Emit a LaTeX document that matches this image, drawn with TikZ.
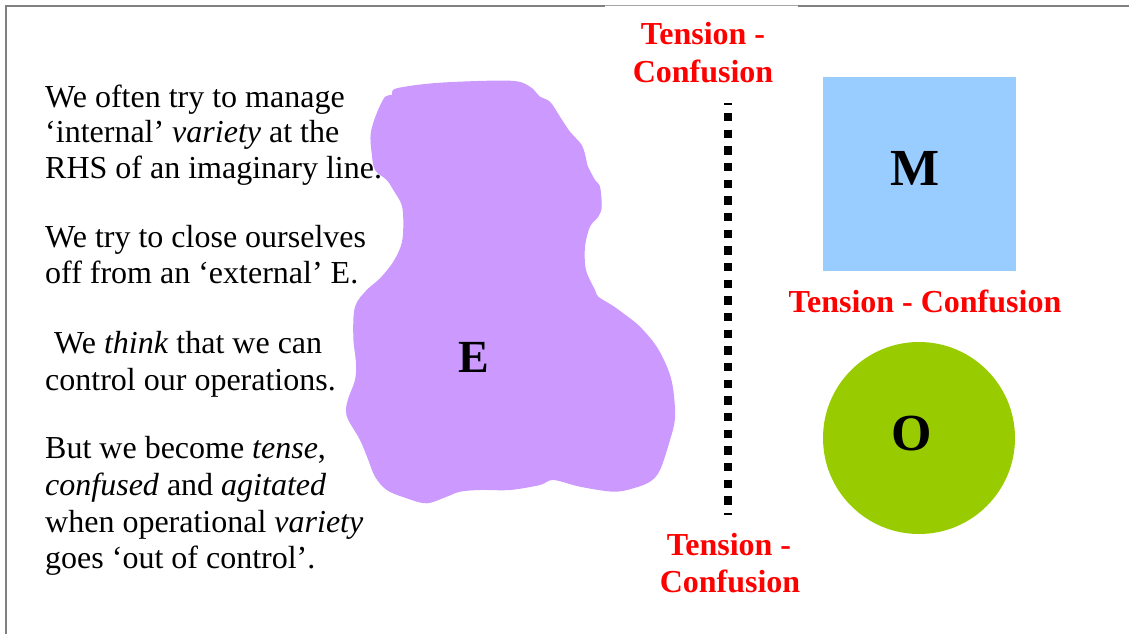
\documentclass[tikz,border=0pt]{standalone}
\usepackage{fontspec}
\setmainfont{Liberation Serif}
\definecolor{blobpurple}{HTML}{CC99FF}
\definecolor{mblue}{HTML}{99CCFF}
\definecolor{ogreen}{HTML}{99CC00}
\definecolor{tred}{HTML}{FF0000}
\definecolor{framegray}{HTML}{808080}
\begin{document}
\begin{tikzpicture}[x=1pt,y=-1pt,
  body/.style={anchor=base west,inner sep=0pt,font=\fontsize{32}{35.5}\selectfont},
  redlabel/.style={anchor=base,inner sep=0pt,text=tred,font=\fontsize{32}{37}\selectfont\bfseries},
  biglabel/.style={anchor=base,inner sep=0pt,font=\fontsize{52}{56}\selectfont\bfseries},
  frameline/.style={draw=framegray,line width=2pt}
]
\useasboundingbox (0,0) rectangle (1129,634);
% frame
\coordinate (ftl) at (6,6);
\coordinate (ftr) at (1129,6);
\coordinate (fbl) at (6,634);
\coordinate (fga) at (605,6);
\coordinate (fgb) at (798,6);
\draw[frameline] (fbl) -- (ftl) -- (fga);
\draw[frameline] (fgb) -- (ftr);
\draw[draw=framegray!70,line width=1pt] (fga) -- (fgb);

% blob E
\fill[blobpurple] plot[smooth cycle,tension=0.55] coordinates {
(396.7,88.3) (440,82.7) (510,80.7) (530,86.7) (540,96.7) (550,101.7)
(560,116.7) (570,131.7) (581.7,145) (586,158.3) (587.3,165) (595,180)
(600,186.7) (601.7,206.7) (598.3,216.7) (590,226.7) (585,246.7) (586,270)
(595,290) (598.3,296.7) (611.7,305) (623.3,313.3) (640,326.7) (656.7,346.7)
(668.3,370) (673.3,390) (675,418.3) (670,440) (660,470) (650,481.7)
(633.3,488.3) (613.3,491.7) (580,486.7) (553.3,480) (540,485) (510,490)
(480,490) (460,491.7) (446.7,496.7) (426.7,503.3) (406.7,498.3) (386.7,490)
(375,476.7) (368.3,460) (360,440) (348.3,420) (346,410) (348.3,398.3)
(355,380) (356,363.3) (353.3,336.7) (355,306.7) (366.7,290) (380,278.3)
(393.3,261.7) (401.7,243.3) (403.3,223.3) (401.7,205) (393.3,190) (386.7,180)
(375,170) (371.7,153.3) (370.7,133.3) (376.7,113.3) (385,96.7) (391.7,95)};
\node[anchor=base,inner sep=0pt,font=\fontsize{46}{50}\selectfont\bfseries] (E) at (473.5,372) {E};

% left text
\node[body] (l1) at (45,107) {We often try to manage};
\node[body] (l2) at (45,142) {‘internal’ \textit{variety} at the};
\node[body] (l3) at (45,178) {RHS of an imaginary line.};
\node[body] (l4) at (45,247) {We try to close ourselves};
\node[body] (l5) at (45,283) {off from an ‘external’ E.};
\node[body] (l6) at (54,353) {We \textit{think} that we can};
\node[body] (l7) at (45,390) {control our operations.};
\node[body] (l8) at (45,458) {But we become \textit{tense},};
\node[body] (l9) at (45,495) {\textit{confused} and \textit{agitated}};
\node[body] (l10) at (45,532) {when operational \textit{variety}};
\node[body] (l11) at (45,568) {goes ‘out of control’.};

% dotted dividing line
\coordinate (dtop) at (728,103);
\coordinate (dbot) at (728,515);
\draw[line width=8.5pt,dash pattern=on 8.33pt off 8.33pt,dash phase=6.67pt] (dtop) -- (dbot);

% tension labels
\node[redlabel] (t1a) at (703,45) {Tension -};
\node[redlabel] (t1b) at (703,82) {Confusion};
\node[redlabel] (t2) at (925,312) {Tension - Confusion};
\node[redlabel] (t3a) at (729,555) {Tension -};
\node[redlabel] (t3b) at (730,592) {Confusion};

% M square
\node[fill=mblue,minimum width=193pt,minimum height=194pt,inner sep=0pt,anchor=north west] (Mbox) at (823,77) {};
\node[biglabel] (M) at (915.5,185) {M};

% O circle
\node[circle,fill=ogreen,minimum size=192pt,inner sep=0pt] (Ocirc) at (919,438) {};
\node[biglabel] (O) at (912,450) {O};
\end{tikzpicture}
\end{document}
